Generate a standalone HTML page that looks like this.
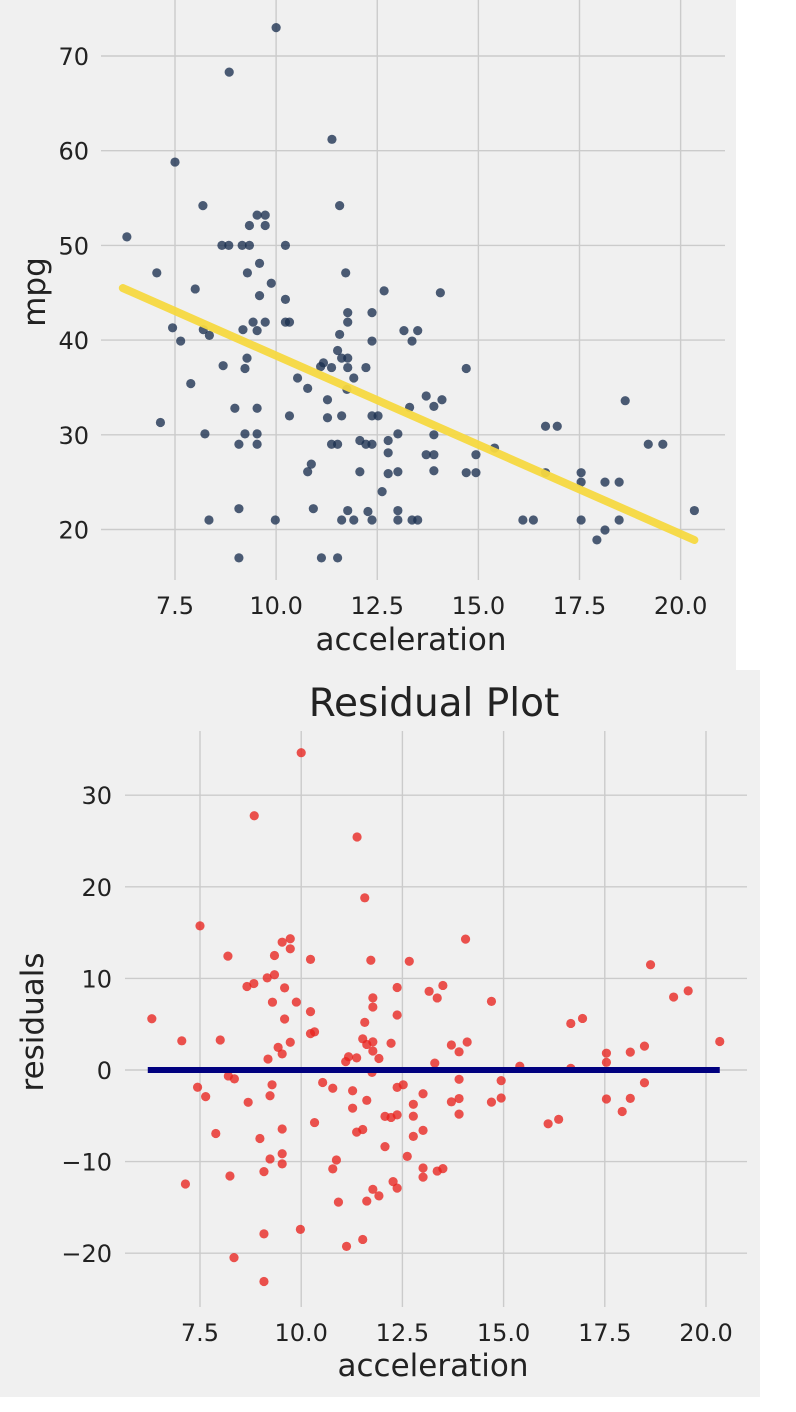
<!DOCTYPE html>
<html><head><meta charset="utf-8">
<style>
html,body{margin:0;padding:0;background:#fff;}
svg{display:block;font-family:"DejaVu Sans","Liberation Sans",sans-serif;}
</style></head>
<body>
<svg id="chart" width="796" height="1412" viewBox="0 0 796 1412" xmlns="http://www.w3.org/2000/svg">
<rect x="0" y="0" width="736" height="670" fill="#f0f0f0"/>
<rect x="0" y="670" width="760" height="727" fill="#f0f0f0"/>
<g id="topg"></g>
<g id="botg"></g>
<text x="434" y="716" font-size="39" text-anchor="middle" fill="#222">Residual Plot</text>
<text x="411" y="650" font-size="31" text-anchor="middle" fill="#222">acceleration</text>
<text x="433" y="1376" font-size="31" text-anchor="middle" fill="#222">acceleration</text>
<text transform="translate(45,292) rotate(-90)" font-size="31" text-anchor="middle" fill="#222">mpg</text>
<text transform="translate(43,1022) rotate(-90)" font-size="31" text-anchor="middle" fill="#222">residuals</text>
</svg>
<script>
const acceleration = [10.0,8.84,11.38,7.5,8.19,11.57,9.53,9.73,9.34,9.73,6.31,8.66,8.83,9.16,9.34,10.23,9.59,7.05,9.29,11.72,9.88,8.0,12.67,9.59,10.23,
11.77,12.37,11.77,9.43,9.73,10.23,10.33,7.44,8.2,9.18,9.53,13.16,13.5,7.64,8.35,11.57,12.37,13.36,11.52,11.62,11.77,9.28,11.17,11.1,11.37,11.77,12.22,8.69,9.23,10.53,10.78,11.92,11.75,7.89,11.27,8.98,9.53,10.33,11.27,11.62,12.37,12.52,13.3,7.14,8.24,9.23,9.53,13.01,9.08,9.53,11.37,11.52,12.07,12.22,12.37,12.77,12.77,10.87,10.78,12.07,12.77,13.01,12.62,9.08,10.92,11.77,12.27,13.01,8.34,9.98,11.62,11.92,12.37,13.01,13.36,13.5,9.08,11.12,11.52,
14.06,14.7,13.71,14.1,13.9,13.9,13.71,13.9,13.9,14.94,14.7,14.94,15.4,16.66,16.95,18.63,19.2,19.56,17.54,17.54,18.13,18.48,16.66,16.1,16.36,17.54,18.48,18.13,17.93,20.34];
const mpg = [73.0,68.3,61.2,58.8,54.2,54.2,53.2,53.2,52.1,52.1,50.9,50.0,50.0,50.0,50.0,50.0,48.1,47.1,47.1,47.1,46.0,45.4,45.2,44.7,44.3,
42.9,42.9,41.9,41.9,41.9,41.9,41.9,41.3,41.1,41.1,41.0,41.0,41.0,39.9,40.5,40.6,39.9,39.9,38.9,38.1,38.1,38.1,37.6,37.2,37.1,37.1,37.1,37.3,37.0,36.0,34.9,36.0,34.8,35.4,33.7,32.8,32.8,32.0,31.8,32.0,32.0,32.0,32.9,31.3,30.1,30.1,30.1,30.1,29.0,29.0,29.0,29.0,29.4,29.0,29.0,29.4,28.1,26.9,26.1,26.1,25.9,26.1,24.0,22.2,22.2,22.0,21.9,22.0,21.0,21.0,21.0,21.0,21.0,21.0,21.0,21.0,17.0,17.0,17.0,
45.0,37.0,34.1,33.7,33.0,30.0,27.9,27.9,26.2,27.9,26.0,26.0,28.6,30.9,30.9,33.6,29.0,29.0,26.0,25.0,25.0,25.0,26.0,21.0,21.0,21.0,21.0,19.95,18.9,22.0];
const fitIntercept = 57.19;
const fitSlope = -1.883;
const fitRange = [6.21, 20.34];
const xTicks = [7.5,10.0,12.5,15.0,17.5,20.0];
const xTickLabels = ["7.5","10.0","12.5","15.0","17.5","20.0"];
const mpgTicks = [20,30,40,50,60,70];
const residTicks = [-20,-10,0,10,20,30];
const residTickLabels = ["\u221220","\u221210","0","10","20","30"];

const NS = "http://www.w3.org/2000/svg";
function mk(parent, tag, attrs){const e=document.createElementNS(NS,tag);for(const k in attrs)e.setAttribute(k,attrs[k]);parent.appendChild(e);return e;}

const tx = v => 175 + (v-7.5)*40.45;
const ty = v => 529.5 - (v-20)*9.47;
const bx = v => 200 + (v-7.5)*40.48;
const by = v => 1070 - v*9.16;

const gTop = document.getElementById('topg');
const gBot = document.getElementById('botg');

xTicks.forEach((t,i)=>{
  const l = mk(gTop,'line',{x1:tx(t),x2:tx(t),y1:0,y2:580,stroke:'#cbcbcb','stroke-width':1.4});
  
  
  const s = mk(gTop,'text',{x:tx(t),y:614,'font-size':24,'text-anchor':'middle',fill:'#222'});
  s.textContent = xTickLabels[i];
  
  
});
mpgTicks.forEach(t=>{
  const l = mk(gTop,'line',{x1:101,x2:725,y1:ty(t),y2:ty(t),stroke:'#cbcbcb','stroke-width':1.4});
  
  
  const s = mk(gTop,'text',{x:89,y:ty(t)+9,'font-size':24,'text-anchor':'end',fill:'#222'});
  s.textContent = String(t);
  
  
});
acceleration.forEach((a,i)=>{
  const c = mk(gTop,'circle',{cx:tx(a),cy:ty(mpg[i]),r:4.6,fill:'#1b3050','fill-opacity':0.78});
  
  
});
const fl = mk(gTop,'line',{x1:tx(fitRange[0]),y1:ty(fitIntercept+fitSlope*fitRange[0]),x2:tx(fitRange[1]),y2:ty(fitIntercept+fitSlope*fitRange[1]),stroke:'#f5d840','stroke-width':8,'stroke-linecap':'round','stroke-opacity':0.95});



xTicks.forEach((t,i)=>{
  const l = mk(gBot,'line',{x1:bx(t),x2:bx(t),y1:731,y2:1307,stroke:'#cbcbcb','stroke-width':1.4});
  
  
  const s = mk(gBot,'text',{x:bx(t),y:1341,'font-size':24,'text-anchor':'middle',fill:'#222'});
  s.textContent = xTickLabels[i];
  
  
});
residTicks.forEach((t,i)=>{
  const l = mk(gBot,'line',{x1:125,x2:747,y1:by(t),y2:by(t),stroke:'#cbcbcb','stroke-width':1.4});
  
  
  const s = mk(gBot,'text',{x:112,y:by(t)+9,'font-size':24,'text-anchor':'end',fill:'#222'});
  s.textContent = residTickLabels[i];
  
  
});
acceleration.forEach((a,i)=>{
  const r = mpg[i] - (fitIntercept + fitSlope*a);
  const c = mk(gBot,'circle',{cx:bx(a),cy:by(r),r:4.6,fill:'#e8231e','fill-opacity':0.78});
  
  
});
const zl = mk(gBot,'line',{x1:bx(fitRange[0]),x2:bx(fitRange[1]),y1:by(0),y2:by(0),stroke:'#00007f','stroke-width':6});


</script>
</body></html>
